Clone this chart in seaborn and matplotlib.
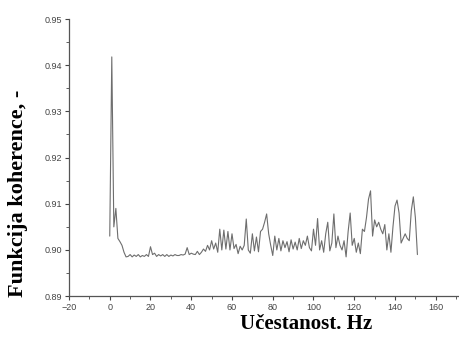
import numpy as np
import pandas as pd
import matplotlib
matplotlib.use('Agg')
import matplotlib.pyplot as plt
import seaborn as sns
from matplotlib.ticker import MultipleLocator

# frekvencija, Hz (korak 1 Hz)
frekvencija = list(range(0, 152))

# funkcija koherencije, ocitano sa slike
koherencija = [
    0.9030, 0.9418, 0.9050, 0.9090, 0.9025, 0.9018, 0.9010, 0.8995, 0.8985, 0.8986,
    0.8990, 0.8985, 0.8989, 0.8986, 0.8990, 0.8985, 0.8988, 0.8986, 0.8990, 0.8986,
    0.9007, 0.8990, 0.8993, 0.8986, 0.8990, 0.8987, 0.8990, 0.8986, 0.8990, 0.8986,
    0.8989, 0.8987, 0.8990, 0.8988, 0.8988, 0.8990, 0.8989, 0.8991, 0.9005, 0.8990,
    0.8993, 0.8991, 0.8990, 0.8997, 0.8990, 0.8995, 0.9002, 0.8997, 0.9010, 0.9000,
    0.9020, 0.9002, 0.9015, 0.8995, 0.9045, 0.9000, 0.9043, 0.9002, 0.9040, 0.9000,
    0.9035, 0.9003, 0.9012, 0.8992, 0.9008, 0.9000, 0.9010, 0.9067, 0.9000, 0.8993,
    0.9035, 0.8998, 0.9028, 0.8996, 0.9040, 0.9045, 0.9060, 0.9078, 0.9035, 0.9010,
    0.8988, 0.9030, 0.9000, 0.9025, 0.8998, 0.9020, 0.9005, 0.9018, 0.8996, 0.9022,
    0.9002, 0.9017, 0.9000, 0.9025, 0.9003, 0.9020, 0.9010, 0.9030, 0.9005, 0.8998,
    0.9045, 0.9010, 0.9068, 0.9000, 0.9020, 0.8995, 0.9035, 0.9060, 0.8998, 0.9015,
    0.9078, 0.9005, 0.9030, 0.9010, 0.9000, 0.9020, 0.8985, 0.9040, 0.9080, 0.9010,
    0.9025, 0.8995, 0.9015, 0.8992, 0.9045, 0.9040, 0.9070, 0.9110, 0.9128, 0.9030,
    0.9065, 0.9050, 0.9060, 0.9045, 0.9035, 0.9055, 0.9000, 0.9035, 0.8995, 0.9050,
    0.9095, 0.9108, 0.9080, 0.9015, 0.9025, 0.9035, 0.9025, 0.9020, 0.9085, 0.9115,
    0.9070, 0.8990,
]

x_ticks = [-20, 0, 20, 40, 60, 80, 100, 120, 140, 160]
y_ticks = [0.89, 0.90, 0.91, 0.92, 0.93, 0.94, 0.95]

df = pd.DataFrame({'f': frekvencija, 'k': koherencija})

sns.set_style('ticks')
plt.rcParams['font.family'] = ['Liberation Sans', 'DejaVu Sans']

fig = plt.figure(figsize=(4.6, 3.4), dpi=100)
ax = fig.add_axes([0.15, 0.129, 0.846, 0.815])

sns.lineplot(data=df, x='f', y='k', ax=ax, color='#6e6e6e', linewidth=0.8,
             estimator=None, sort=False)

ax.set_xlim(-20, 171)
ax.set_ylim(0.89, 0.95)
ax.set_xticks(x_ticks)
ax.set_yticks(y_ticks)
ax.set_yticklabels([f'{v:.2f}' for v in y_ticks])
ax.xaxis.set_minor_locator(MultipleLocator(10))
ax.yaxis.set_minor_locator(MultipleLocator(0.005))

ax.tick_params(which='major', direction='out', length=3, width=0.8,
               labelsize=6.5, colors='#444444', pad=2)
ax.tick_params(which='minor', direction='out', length=2, width=0.6, colors='#444444')

for s in ['top', 'right']:
    ax.spines[s].set_visible(False)
for s in ['left', 'bottom']:
    ax.spines[s].set_color('#555555')
    ax.spines[s].set_linewidth(0.9)

ax.set_xlabel('Učestanost. Hz', family=['Liberation Serif'], fontweight='bold',
              fontsize=15, color='black')
ax.xaxis.set_label_coords(0.61, -0.065)
ax.set_ylabel('Funkcija koherence, -', family=['Liberation Serif'], fontweight='bold',
              fontsize=16, color='black')
ax.yaxis.set_label_coords(-0.105, 0.37)

fig.savefig('out.png', dpi=100)
